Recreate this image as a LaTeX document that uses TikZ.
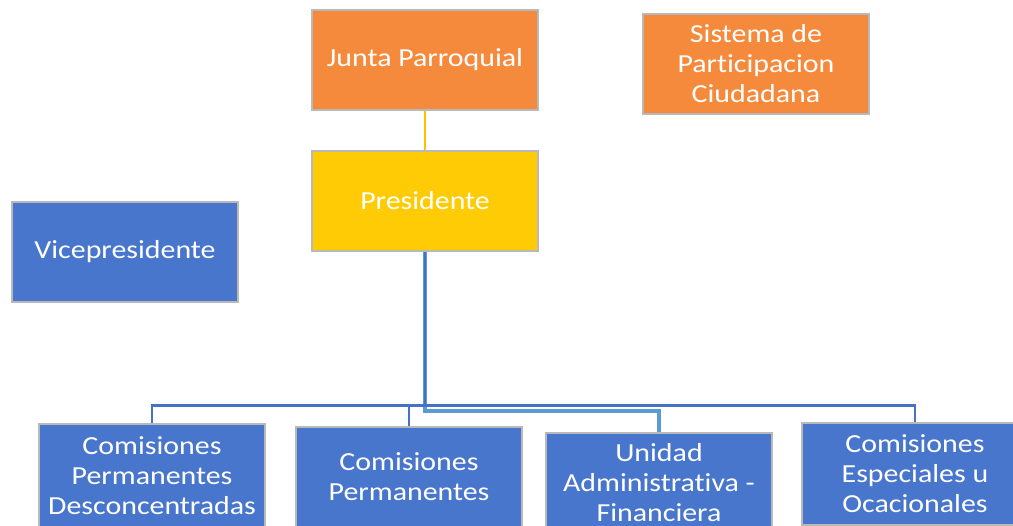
\documentclass[tikz,border=0pt]{standalone}
\usepackage{fontspec}
\setmainfont{Carlito}[FakeStretch=1.15,RawFeature={-liga;-clig;-calt}]
\definecolor{boxblue}{HTML}{4876CC}
\definecolor{boxorange}{HTML}{F68A3C}
\definecolor{boxyellow}{HTML}{FFCB05}
\definecolor{lineblue}{HTML}{4472C4}
\definecolor{linelight}{HTML}{5B9BD5}
\definecolor{lineyellow}{HTML}{FFC000}
\tikzset{
	orgbox/.style={draw=gray!55, line width=1.5pt, text=white, align=center,
		minimum width=226pt, minimum height=100pt, inner sep=0pt,
		font=\fontsize{26}{30}\selectfont},
	bluebox/.style={orgbox, fill=boxblue},
	orangebox/.style={orgbox, fill=boxorange},
	yellowbox/.style={orgbox, fill=boxyellow},
	busline/.style={draw=lineblue, line width=2.5pt},
	lightline/.style={draw=linelight, line width=4pt},
}

\begin{document}
\begin{tikzpicture}[x=1pt,y=-1pt]
	\useasboundingbox (0,0) rectangle (1013,526);
	\clip (0,0) rectangle (1013,526);
	%
	\node[orangebox] (junta) at (425,60) {Junta Parroquial};
	\node[orangebox] (spc) at (756,64) {Sistema de\\Participacion\\Ciudadana};
	\node[yellowbox] (pres) at (425,201) {Presidente};
	\node[bluebox] (vice) at (125,252) {Vicepresidente};
	%
	\node[bluebox, minimum height=104pt] (cpd) at (152,476) {Comisiones\\Permanentes\\Desconcentradas};
	\node[bluebox] (cp) at (409,477) {Comisiones\\Permanentes};
	\node[bluebox] (uaf) at (659,483) {Unidad\\Administrativa -\\Financiera};
	\node[bluebox, minimum height=102pt] (cesp) at (915,474) {Comisiones\\Especiales u\\Ocacionales};
	%
	\draw[draw=lineyellow, line width=2pt] (junta.south) -- (pres.north);
	\draw[lightline] (pres.south) |- ([yshift=21pt]uaf.north) -- (uaf.north);
	\draw[busline] (pres.south) -- ++(0,154) coordinate (bus);
	\draw[busline] (cpd.north) |- (bus) -| (cesp.north);
	\draw[busline] (cp.north) -- (cp.north |- bus);
\end{tikzpicture}
\end{document}
